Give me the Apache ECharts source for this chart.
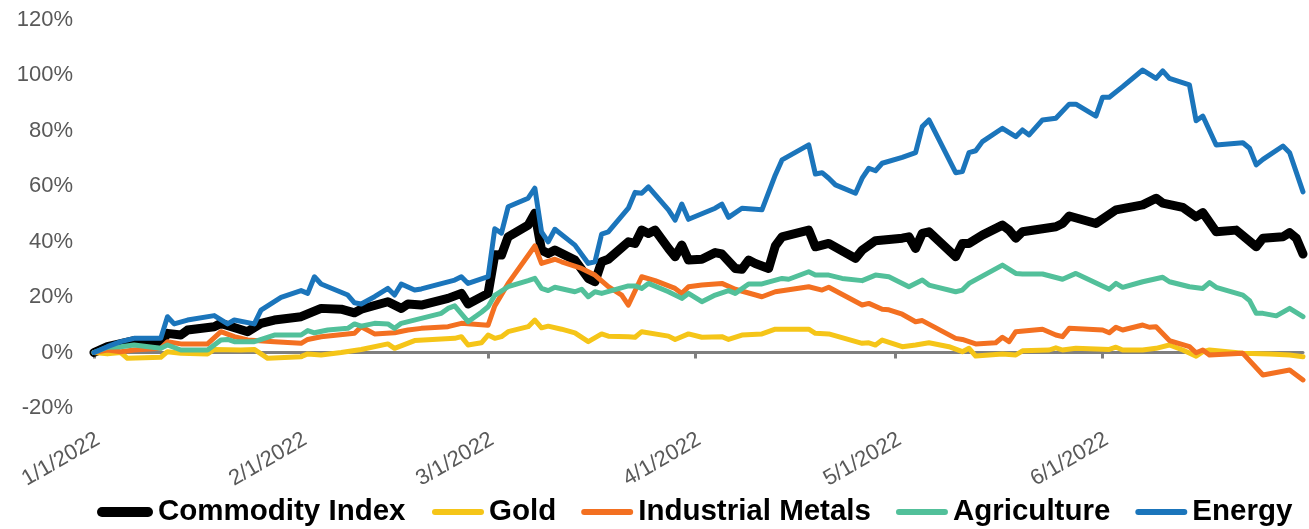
<!DOCTYPE html>
<html>
<head>
<meta charset="utf-8">
<script src="https://cdn.jsdelivr.net/npm/echarts@6/dist/echarts.min.js"></script>
<style>
  html, body { margin: 0; padding: 0; background: #fff; }
  #chart { width: 1309px; height: 529px; }
</style>
</head>
<body>
<div id="chart"></div>
<script>
// Cumulative returns since the start of 2022, in percent. Points are [month/day, value].
const seriesNames = ['Commodity Index', 'Gold', 'Industrial Metals', 'Agriculture', 'Energy'];
const seriesColors = ['#000000', '#F5C518', '#F37021', '#52C09A', '#1B75BB'];

const commodityIndex = [
  ['1/1',0],['1/3',2.1],['1/7',4.3],['1/11',3.5],['1/12',6.9],['1/14',6.3],['1/15',8.1],['1/19',9.3],
  ['1/20',10.5],['1/24',7.5],['1/26',10.5],['1/28',11.7],['2/1',12.9],['2/4',15.9],['2/7',15.6],['2/9',14.3],
  ['2/10',15.6],['2/14',18.3],['2/16',15.9],['2/17',17.5],['2/19',17.1],['2/23',19.5],['2/25',21.3],['2/26',17.5],
  ['3/1',21.3],['3/2',35.2],['3/3',35.1],['3/4',41.7],['3/7',45.9],['3/8',50.2],['3/9',36.9],['3/10',35.7],
  ['3/11',36.9],['3/14',33.3],['3/16',26.7],['3/17',25.5],['3/18',32.7],['3/19',33.6],['3/22',39.9],['3/23',39.3],
  ['3/24',44.1],['3/25',42.9],['3/26',44.1],['3/28',37.5],['3/29',34.5],['3/30',38.7],['3/31',33.3],['4/2',33.6],
  ['4/4',36],['4/5',35.5],['4/7',30.3],['4/8',30],['4/9',33.3],['4/10',32.1],['4/12',30.3],['4/13',38.4],
  ['4/14',41.7],['4/18',44.1],['4/19',38.1],['4/21',39.3],['4/25',33.9],['4/26',36.9],['4/28',40.3],['5/2',41.2],
  ['5/3',41.7],['5/4',37.5],['5/5',42.9],['5/6',43.5],['5/10',34.5],['5/11',39.3],['5/12',39.3],['5/14',42.3],
  ['5/17',45.9],['5/18',44.1],['5/19',41.2],['5/20',43.5],['5/25',45.3],['5/26',46.5],['5/27',49.2],['5/31',46.5],
  ['6/3',51.4],['6/7',53.2],['6/9',55.6],['6/10',53.8],['6/13',52.3],['6/15',48.9],['6/16',50.4],['6/18',43.5],
  ['6/21',44.1],['6/24',38.1],['6/25',41.2],['6/28',41.7],['6/29',43.2],['6/30',41.2],['7/1',35.5]
];

const gold = [
  ['1/1',0],['1/3',-0.5],['1/5',0],['1/6',-2.1],['1/11',-1.7],['1/12',0.3],['1/14',-0.3],['1/18',-0.5],
  ['1/19',1.1],['1/23',0.9],['1/25',1.1],['1/27',-2.1],['2/1',-1.5],['2/2',-0.5],['2/4',-0.9],['2/7',0],
  ['2/10',1.1],['2/14',3.1],['2/15',1.5],['2/18',4.3],['2/24',5.1],['2/25',5.7],['2/26',2.7],['2/28',3.5],
  ['3/1',6.3],['3/2',5.1],['3/3',5.7],['3/4',7.5],['3/7',9.3],['3/8',11.7],['3/9',8.9],['3/10',9.5],
  ['3/12',8.4],['3/14',7.1],['3/16',3.9],['3/18',6.7],['3/19',5.9],['3/22',5.7],['3/23',5.5],['3/24',7.5],
  ['3/28',5.9],['3/29',4.7],['3/31',6.7],['4/2',5.5],['4/5',5.7],['4/6',4.7],['4/8',6.3],['4/11',6.7],
  ['4/13',8.4],['4/18',8.4],['4/19',6.9],['4/21',6.7],['4/26',3.3],['4/27',3.5],['4/28',2.7],['4/29',4.5],
  ['5/2',2.1],['5/4',2.7],['5/6',3.5],['5/9',2.1],['5/11',0.3],['5/12',1.5],['5/13',-1.3],['5/17',-0.5],
  ['5/19',-0.9],['5/20',0.6],['5/24',0.9],['5/25',1.7],['5/26',0.9],['5/28',1.5],['6/2',1.1],['6/3',1.9],
  ['6/4',0.9],['6/7',0.9],['6/9',1.5],['6/11',2.7],['6/13',0.9],['6/15',-1.3],['6/16',0.3],['6/17',0.9],
  ['6/22',-0.3],['6/26',-0.5],['6/29',-0.9],['7/1',-1.5]
];

const industrialMetals = [
  ['1/1',0],['1/3',0.9],['1/5',0.3],['1/7',0.9],['1/11',1.5],['1/12',3.9],['1/14',3.1],['1/18',3.1],
  ['1/20',7.5],['1/22',5.7],['1/24',4.5],['1/28',3.9],['2/1',3.3],['2/2',4.7],['2/4',5.7],['2/9',6.9],
  ['2/10',9.3],['2/12',6.7],['2/15',7.1],['2/17',8.1],['2/19',8.7],['2/23',9.3],['2/25',10.5],['2/28',10],
  ['3/1',9.8],['3/2',16.8],['3/4',24.9],['3/8',38.4],['3/9',32.1],['3/11',33.6],['3/12',32.7],['3/15',30.3],
  ['3/17',27.9],['3/19',23.7],['3/21',20.7],['3/22',17.1],['3/24',27.3],['3/26',25.9],['3/29',23.1],['3/30',21.3],
  ['3/31',23.7],['4/2',24.3],['4/5',24.9],['4/7',22.8],['4/11',20.1],['4/13',21.9],['4/18',23.7],['4/20',22.5],
  ['4/21',23.5],['4/26',17.1],['4/27',17.7],['4/29',15.6],['4/30',15.4],['5/2',13.8],['5/4',11.1],['5/5',11.5],
  ['5/10',5.1],['5/11',4.7],['5/13',3.1],['5/16',3.5],['5/17',5.5],['5/18',3.9],['5/19',7.5],['5/23',8.4],
  ['5/25',6.3],['5/26',5.7],['5/27',8.7],['6/1',8.1],['6/2',7.1],['6/3',9.1],['6/4',8.1],['6/7',9.9],
  ['6/8',9.1],['6/9',9.3],['6/11',4.3],['6/14',2.1],['6/15',-0.1],['6/16',0.9],['6/17',-0.9],['6/22',-0.3],
  ['6/25',-8.1],['6/29',-6.3],['7/1',-9.9]
];

const agriculture = [
  ['1/1',0],['1/3',1.9],['1/5',2.1],['1/7',2.7],['1/11',1.5],['1/12',2.7],['1/14',0.9],['1/18',0.9],
  ['1/20',4.5],['1/21',4.7],['1/22',3.9],['1/25',3.9],['1/28',6.3],['2/1',6.3],['2/2',7.9],['2/3',7.1],
  ['2/5',8.1],['2/8',8.7],['2/9',10.3],['2/10',9.5],['2/12',10.5],['2/14',10.3],['2/15',8.7],['2/16',10.5],
  ['2/22',14.1],['2/23',15.9],['2/24',16.8],['2/26',11.1],['2/28',14.5],['3/1',16.5],['3/2',20.6],['3/4',23.7],
  ['3/7',25.9],['3/8',26.7],['3/9',23.1],['3/10',22.3],['3/11',23.5],['3/14',21.9],['3/15',22.8],['3/16',20.1],
  ['3/17',21.9],['3/18',21.3],['3/22',24],['3/23',24],['3/24',23.1],['3/25',24.9],['3/28',21.9],['3/30',19.5],
  ['3/31',21.3],['4/2',18.3],['4/4',20.7],['4/6',22.3],['4/7',21.3],['4/9',24.7],['4/11',24.7],['4/14',26.7],
  ['4/15',26.4],['4/18',29.1],['4/19',27.9],['4/21',27.9],['4/23',26.7],['4/26',25.9],['4/28',27.9],['4/30',27.3],
  ['5/3',23.7],['5/5',26.1],['5/6',24.3],['5/10',21.9],['5/11',22.5],['5/12',24.9],['5/17',31.5],['5/19',28.5],
  ['5/20',28.3],['5/23',28.3],['5/26',26.4],['5/28',28.5],['6/2',22.8],['6/3',24.9],['6/4',23.5],['6/7',25.5],
  ['6/10',27.1],['6/11',25.5],['6/14',23.7],['6/16',23.1],['6/17',25.2],['6/18',23.5],['6/22',20.7],['6/23',18.7],
  ['6/24',14.1],['6/25',14.1],['6/27',13.2],['6/29',15.9],['7/1',12.9]
];

const energy = [
  ['1/1',0],['1/3',2.1],['1/5',3.9],['1/7',5.1],['1/11',5.1],['1/12',12.9],['1/13',10.3],['1/15',11.7],
  ['1/19',13.3],['1/21',10.3],['1/22',11.7],['1/25',10.3],['1/26',15.3],['1/29',19.9],['2/1',22.3],['2/2',21.3],
  ['2/3',27.3],['2/4',24.7],['2/5',23.7],['2/8',20.7],['2/9',17.9],['2/10',17.5],['2/12',20.1],['2/14',23.1],
  ['2/15',20.7],['2/16',24.7],['2/18',22.5],['2/19',22.9],['2/24',26.1],['2/25',27.3],['2/26',24.9],['3/1',27.3],
  ['3/2',44.6],['3/3',43],['3/4',52.5],['3/7',55.6],['3/8',59.2],['3/9',43.5],['3/10',39.9],['3/11',44.4],
  ['3/14',38.7],['3/16',32.1],['3/17',32.7],['3/18',42.7],['3/19',43.5],['3/22',52],['3/23',57.7],['3/24',57.4],
  ['3/25',59.7],['3/28',51.4],['3/29',47.7],['3/30',53.5],['3/31',48],['4/4',52],['4/5',53.5],['4/6',48.7],
  ['4/8',52],['4/11',51.4],['4/13',64],['4/14',69.4],['4/18',74.8],['4/19',64.3],['4/20',64.8],['4/21',62.8],
  ['4/22',60.4],['4/25',57.4],['4/26',62.8],['4/27',66.4],['4/28',65.5],['4/29',68.2],['5/2',70.3],['5/4',72],
  ['5/5',81.4],['5/6',83.8],['5/10',64.8],['5/11',65.2],['5/12',72],['5/13',72.7],['5/14',76],['5/17',80.8],
  ['5/19',77.8],['5/20',80.2],['5/21',78.4],['5/23',83.8],['5/25',84.4],['5/27',89.5],['5/28',89.5],['5/31',85.2],
  ['6/1',92],['6/2',92],['6/4',95.8],['6/7',101.8],['6/9',98.8],['6/10',101.5],['6/11',98.8],['6/14',96.4],
  ['6/15',83.5],['6/16',85.2],['6/18',74.8],['6/22',75.6],['6/23',73.6],['6/24',67.6],['6/25',69.6],['6/28',74.4],
  ['6/29',72],['7/1',57.9]
];

const yTicks = { min: -20, max: 120, step: 20 };
const YEAR = 2022;

// Calendar days on the date axis, 1/1 through 7/1.
const days = [];
for (let t = Date.UTC(YEAR, 0, 1); t <= Date.UTC(YEAR, 6, 1); t += 86400000) {
  const d = new Date(t);
  days.push((d.getUTCMonth() + 1) + '/' + d.getUTCDate() + '/' + d.getUTCFullYear());
}
const isMonthStart = (i, v) => v.split('/')[1] === '1' && !v.startsWith('7/');

const withYear = pts => pts.map(([md, v]) => [md + '/' + YEAR, v]);
const seriesData = [commodityIndex, gold, industrialMetals, agriculture, energy];

// Capsule-shaped legend keys (w x h), drawn 1:1 in the legend box.
const capsule = (w, h) => {
  const r = h / 2;
  return 'path://M' + r + ',0 H' + (w - r) + ' A' + r + ',' + r + ' 0 0 1 ' + (w - r) + ',' + h +
         ' H' + r + ' A' + r + ',' + r + ' 0 0 1 ' + r + ',0 Z';
};

const FONT = '"Liberation Sans", Arial, sans-serif';
const legendText = { fontSize: 29.5, fontWeight: 'bold', color: '#000', fontFamily: FONT, lineHeight: 30 };
const chart = echarts.init(document.getElementById('chart'), null, { renderer: 'canvas' });

const grid = { left: 94, right: 6, top: 19.5, bottom: 121 };
chart.setOption({
  animation: false,
  backgroundColor: '#ffffff',
  textStyle: { fontFamily: FONT },
  grid: [grid, Object.assign({}, grid, { left: grid.left + 4, right: grid.right - 4 })],
  legend: [{
    left: 97, top: 497, padding: 0, width: 320,
    itemWidth: 56, itemHeight: 10, itemGap: 25,
    textStyle: legendText,
    data: [{ name: seriesNames[0], icon: capsule(56, 10) }]
  }, {
    left: 432, top: 497, padding: 0, width: 877,
    itemWidth: 52, itemHeight: 6, itemGap: 25,
    textStyle: legendText,
    data: seriesNames.slice(1).map(name => ({ name, icon: capsule(52, 6) }))
  }],
  xAxis: [{
    type: 'category', gridIndex: 0, data: days, boundaryGap: false,
    axisLine: { onZero: true, lineStyle: { color: '#7F7F7F', width: 3 } },
    axisTick: { show: true, interval: isMonthStart, length: 6, lineStyle: { color: '#7F7F7F', width: 3 } },
    axisLabel: { show: false },
    splitLine: { show: false }
  }, {
    type: 'category', gridIndex: 1, data: days, boundaryGap: false, position: 'bottom',
    axisLine: { show: false, onZero: false },
    axisTick: { show: false },
    axisLabel: { show: true, interval: isMonthStart, rotate: 30, margin: 30, fontSize: 22, color: '#595959', fontFamily: FONT },
    splitLine: { show: false }
  }],
  yAxis: [{
    type: 'value', gridIndex: 0, min: yTicks.min, max: yTicks.max, interval: yTicks.step,
    axisLine: { show: false }, axisTick: { show: false }, splitLine: { show: false },
    axisLabel: { formatter: '{value}%', fontSize: 22, color: '#595959', margin: 21, fontFamily: FONT }
  }, {
    type: 'value', gridIndex: 1, min: yTicks.min, max: yTicks.max, interval: yTicks.step, show: false
  }],
  series: seriesNames.map((name, i) => ({
    name, type: 'line', xAxisIndex: 0, yAxisIndex: 0,
    data: withYear(seriesData[i]),
    symbol: 'none', smooth: false,
    color: seriesColors[i],
    itemStyle: { color: seriesColors[i] },
    lineStyle: { color: seriesColors[i], width: i === 0 ? 9 : 5, cap: 'round', join: 'round' },
    z: 2 + i
  }))
});
</script>
</body>
</html>
